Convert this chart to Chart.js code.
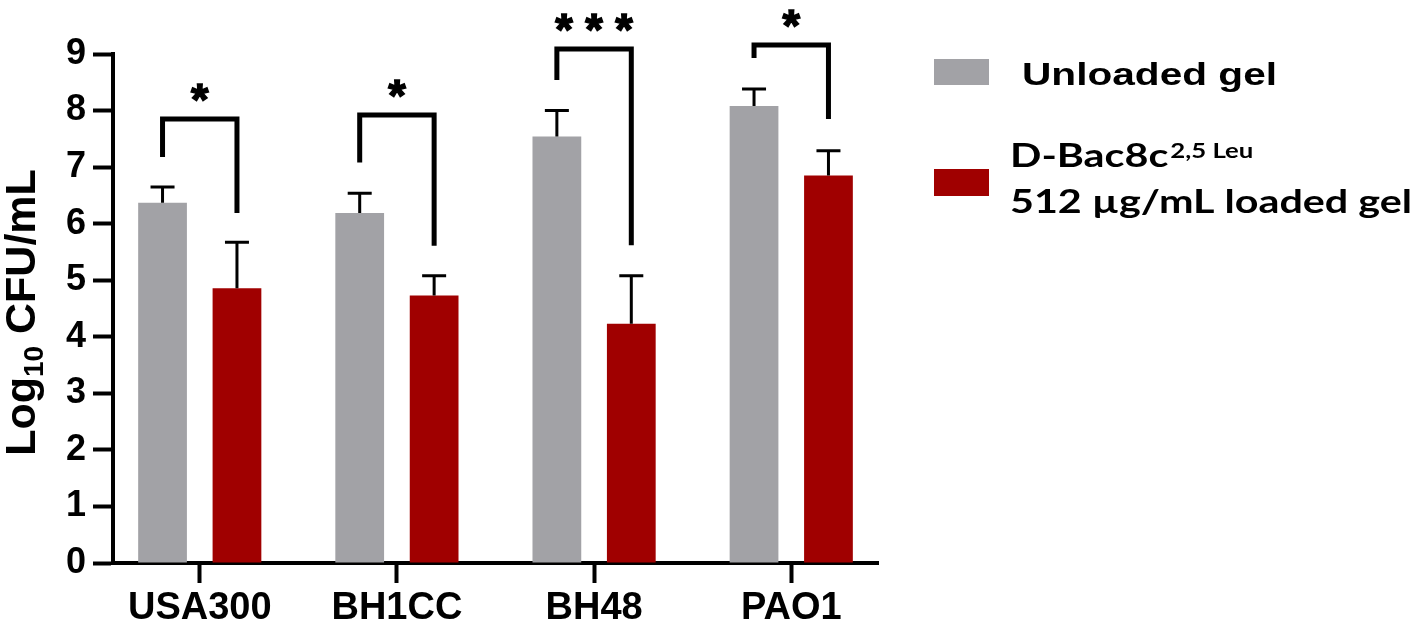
<!DOCTYPE html>
<html lang="en">
<head>
<meta charset="UTF-8">
<title>Log10 CFU/mL by strain</title>
<script src="https://cdn.jsdelivr.net/npm/chart.js"></script>
<style>
  html, body { margin: 0; padding: 0; background: #fff; }
</style>
</head>
<body>
<canvas id="cfuChart" width="1417" height="631"></canvas>
<script>
// --- data ---
const strains = ['USA300', 'BH1CC', 'BH48', 'PAO1'];
const unloaded = [6.37, 6.19, 7.54, 8.08];
const unloadedErr = [0.28, 0.35, 0.46, 0.30];
const loaded = [4.86, 4.73, 4.23, 6.85];
const loadedErr = [0.81, 0.35, 0.85, 0.44];
const yTicks = [0, 1, 2, 3, 4, 5, 6, 7, 8, 9];

// significance brackets (in y units)
const bracketTop = [7.85, 7.92, 9.09, 9.16];
const bracketLeftEnd = [7.18, 7.08, 8.54, 8.93];
const bracketRightEnd = [6.19, 5.61, 5.62, 7.85];
const stars = ['*', '*', '* * *', '*'];

const ARIAL = "'Liberation Sans', Arial, sans-serif";
const CALIBRI = "Lato, 'Open Sans', sans-serif";

// error bars, upward only
const errorBars = {
    id: 'errorBars',
    afterDatasetsDraw(chart) {
        const ctx = chart.ctx;
        const y = chart.scales.y;
        ctx.save();
        ctx.strokeStyle = '#000';
        ctx.lineWidth = 3;
        chart.data.datasets.forEach((ds, di) => {
            const meta = chart.getDatasetMeta(di);
            meta.data.forEach((bar, i) => {
                const v = ds.data[i].y;
                const yTop = y.getPixelForValue(v + ds.err[i]);
                const yBase = y.getPixelForValue(v);
                ctx.beginPath();
                ctx.moveTo(bar.x, yBase);
                ctx.lineTo(bar.x, yTop);
                ctx.moveTo(bar.x - 12, yTop);
                ctx.lineTo(bar.x + 12, yTop);
                ctx.stroke();
            });
        });
        ctx.restore();
    }
};

// brackets with stars
const brackets = {
    id: 'brackets',
    afterDraw(chart) {
        const ctx = chart.ctx;
        const y = chart.scales.y;
        const m0 = chart.getDatasetMeta(0), m1 = chart.getDatasetMeta(1);
        ctx.save();
        ctx.strokeStyle = '#000';
        ctx.lineWidth = 5;
        ctx.lineJoin = 'miter';
        ctx.fillStyle = '#000';
        ctx.font = 'bold 45px ' + ARIAL;
        ctx.textAlign = 'center';
        ctx.textBaseline = 'alphabetic';
        strains.forEach((s, i) => {
            const xl = m0.data[i].x, xr = m1.data[i].x;
            const yt = y.getPixelForValue(bracketTop[i]);
            ctx.lineWidth = 5;
            ctx.beginPath();
            ctx.moveTo(xl, y.getPixelForValue(bracketLeftEnd[i]));
            ctx.lineTo(xl, yt);
            ctx.lineTo(xr, yt);
            ctx.lineTo(xr, y.getPixelForValue(bracketRightEnd[i]));
            ctx.stroke();
            ctx.fillText(stars[i], (xl + xr) / 2, yt - 4);
            ctx.lineWidth = 1.5;
            ctx.strokeText(stars[i], (xl + xr) / 2, yt - 4);
        });
        ctx.restore();
    }
};

// rotated y title with subscript
const yTitle = {
    id: 'yTitle',
    afterDraw(chart) {
        const ctx = chart.ctx;
        const area = chart.chartArea;
        const big = 'bold 43px ' + ARIAL, small = 'bold 28px ' + ARIAL;
        ctx.save();
        ctx.font = big;
        const w1 = ctx.measureText('Log').width, w3 = ctx.measureText(' CFU/mL').width;
        ctx.font = small;
        const w2 = ctx.measureText('10').width;
        const total = w1 + w2 + w3;
        ctx.translate(35, (area.top + area.bottom) / 2 + 4);
        ctx.rotate(-Math.PI / 2);
        ctx.fillStyle = '#000';
        ctx.textBaseline = 'alphabetic';
        ctx.textAlign = 'left';
        let x = -total / 2;
        ctx.font = big; ctx.fillText('Log', x, 0); x += w1;
        ctx.font = small; ctx.fillText('10', x, 8); x += w2;
        ctx.font = big; ctx.fillText(' CFU/mL', x, 0);
        ctx.restore();
    }
};

function stretchText(ctx, text, x, y, sx) {
    ctx.save();
    ctx.translate(x, y);
    ctx.scale(sx, 1);
    ctx.fillText(text, 0, 0);
    ctx.restore();
}

// legend on the right
const sideLegend = {
    id: 'sideLegend',
    afterDraw(chart) {
        const ctx = chart.ctx;
        const ds = chart.data.datasets;
        ctx.save();
        ctx.textAlign = 'left';
        ctx.textBaseline = 'alphabetic';
        ctx.fillStyle = ds[0].backgroundColor;
        ctx.fillRect(934, 59, 55, 26);
        ctx.fillStyle = ds[1].backgroundColor;
        ctx.fillRect(934, 169, 55, 27);

        ctx.fillStyle = '#000';
        ctx.font = 'bold 31px ' + ARIAL;
        let sx = 255 / ctx.measureText(ds[0].label).width;
        stretchText(ctx, ds[0].label, 1022, 85, sx);

        ctx.font = 'bold 32px ' + CALIBRI;
        const line2 = '512 µg/mL loaded gel';
        sx = 402 / ctx.measureText(line2).width;
        stretchText(ctx, line2, 1010, 213, sx);
        stretchText(ctx, 'D-Bac8c', 1010, 167, sx);
        const wMain = ctx.measureText('D-Bac8c').width * sx;
        ctx.font = 'bold 21px ' + CALIBRI;
        stretchText(ctx, '2,5 Leu', 1010 + wMain + 2, 158, sx * 0.95);
        ctx.restore();
    }
};

new Chart(document.getElementById('cfuChart'), {
    type: 'bar',
    data: {
        datasets: [
            {
                label: 'Unloaded gel',
                data: unloaded.map((v, i) => ({ x: i, y: v })),
                err: unloadedErr,
                backgroundColor: '#a2a2a6'
            },
            {
                label: 'D-Bac8c 2,5 Leu 512 µg/mL loaded gel',
                data: loaded.map((v, i) => ({ x: i, y: v })),
                err: loadedErr,
                backgroundColor: '#a00000'
            }
        ]
    },
    options: {
        responsive: false,
        animation: false,
        layout: { padding: { top: 54, right: 539, left: 0, bottom: 0 } },
        datasets: { bar: { categoryPercentage: 0.755, barPercentage: 0.655 } },
        plugins: { legend: { display: false }, tooltip: { enabled: false } },
        scales: {
            x: {
                type: 'linear',
                min: -0.44,
                max: 3.44,
                offset: false,
                afterBuildTicks: s => { s.ticks = strains.map((_, i) => ({ value: i })); },
                afterFit: s => { s.height = 68; },
                grid: { offset: false, drawOnChartArea: false, drawTicks: true, tickLength: 20, tickWidth: 4, tickColor: '#000' },
                border: { display: true, color: '#000', width: 4 },
                ticks: {
                    color: '#000',
                    font: { family: ARIAL, size: 38, weight: 'bold' },
                    padding: 3,
                    autoSkip: false,
                    maxRotation: 0,
                    callback: v => strains[v]
                }
            },
            y: {
                min: 0,
                max: 9,
                afterBuildTicks: s => { s.ticks = yTicks.map(v => ({ value: v })); },
                afterFit: s => { s.width = 113; },
                grid: { drawOnChartArea: false, drawTicks: true, tickLength: 20, tickWidth: 4, tickColor: '#000' },
                border: { display: true, color: '#000', width: 4 },
                ticks: {
                    color: '#000',
                    font: { family: ARIAL, size: 36, weight: 'bold' },
                    padding: 7
                }
            }
        }
    },
    plugins: [errorBars, brackets, yTitle, sideLegend]
});
</script>
</body>
</html>
